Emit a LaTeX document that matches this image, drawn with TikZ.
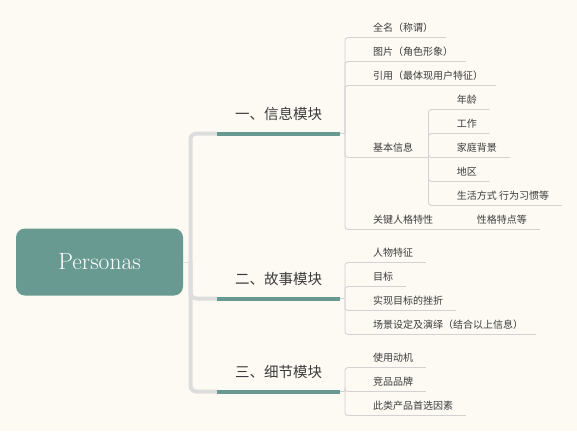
\documentclass[tikz,border=0pt]{standalone}
\usepackage{fontspec}
\newfontfamily\cjk{Noto Sans CJK SC}
\definecolor{paper}{HTML}{FCFAF3}
\definecolor{sage}{HTML}{699A92}
\definecolor{twiggray}{HTML}{D2D2D2}
\definecolor{spinegray}{HTML}{DDDDDD}
\definecolor{ink}{HTML}{3C3C3C}

\begin{document}
\begin{tikzpicture}[x=1pt,y=-1pt]
    % Setup the styles for the map
        \tikzset{root style/.style={fill=sage, rounded corners=9pt,
                                    minimum width=167pt, minimum height=67pt,
                                    text=white, font=\fontsize{23.5}{27}\selectfont},
                 topic style/.style={minimum width=123pt, minimum height=38pt,
                                     inner ysep=0pt, text=ink,
                                     font=\cjk\fontsize{14.5}{16}\selectfont},
                 leaf style/.style={anchor=west, inner xsep=12.5pt, inner ysep=0pt,
                                    minimum height=18.6pt, text=ink,
                                    font=\cjk\fontsize{10}{12}\selectfont},
                 bar/.style={draw=sage, line width=4pt},
                 spine/.style={draw=spinegray, line width=4pt, rounded corners=6pt},
                 twig/.style={draw=twiggray, line width=0.8pt, rounded corners=3pt}}

        % Draw the root and the three modules
        \useasboundingbox[fill=paper] (0,0) rectangle (577,431);
        \node[root style] at (99.5, 262)  (root) {Personas};
        \node[topic style] at (278.5, 114.3) (info)  {一、信息模块};
        \node[topic style] at (278.5, 279.3) (story) {二、故事模块};
        \node[topic style] at (278.5, 372.3) (detail) {三、细节模块};
        \coordinate (hub) at (190.5, 262);

        % Draw the leaves
        \node[leaf style] at (360.5, 28)  (name)   {全名（称谓）};
        \node[leaf style] at (360.5, 52)  (photo)  {图片（角色形象）};
        \node[leaf style] at (360.5, 76)  (quote)  {引用（最体现用户特征）};
        \node[leaf style, inner xsep=15pt] at (358, 148) (basic) {基本信息};
        \node[leaf style] at (360.5, 220) (trait)  {关键人格特性};
        \node[leaf style] at (464.2, 220) (char)   {性格特点等};

        \node[leaf style] at (444.2, 100) (age)    {年龄};
        \node[leaf style] at (444.2, 124) (job)    {工作};
        \node[leaf style] at (444.2, 148) (family) {家庭背景};
        \node[leaf style] at (444.2, 172) (region) {地区};
        \node[leaf style] at (444.2, 196) (life)   {生活方式 行为习惯等};

        \node[leaf style] at (360.5, 253) (persona) {人物特征};
        \node[leaf style] at (360.5, 277) (goal)    {目标};
        \node[leaf style] at (360.5, 301) (setback) {实现目标的挫折};
        \node[leaf style] at (360.5, 325) (scene)   {场景设定及演绎（结合以上信息）};

        \node[leaf style] at (360.5, 358) (motive)  {使用动机};
        \node[leaf style] at (360.5, 382) (rival)   {竞品品牌};
        \node[leaf style] at (360.5, 406) (factor)  {此类产品首选因素};

        % Connect the root with the modules
        \draw[draw=spinegray, line width=0.8pt] (root.east) -- (hub);
        \draw[spine] (hub) |- (info.south west);
        \draw[spine] (hub) |- (story.south west);
        \draw[spine] (hub) |- (detail.south west);
        \draw[bar] (info.south west) -- (info.south east);
        \draw[bar] (story.south west) -- (story.south east);
        \draw[bar] (detail.south west) -- (detail.south east);

        % Connect the modules with the leaves
        \coordinate (t1) at ([xshift=4.7pt]info.south east);
        \coordinate (t2) at ([xshift=4.7pt]story.south east);
        \coordinate (t3) at ([xshift=4.7pt]detail.south east);
        \draw[twig] (info.south east) -- (t1);
        \draw[twig] (story.south east) -- (t2);
        \draw[twig] (detail.south east) -- (t3);
        \foreach \leaf in {name, photo, quote, basic, trait}
            \draw[twig] (t1) |- (\leaf.south east);
        \foreach \leaf in {persona, goal, setback, scene}
            \draw[twig] (t2) |- (\leaf.south east);
        \foreach \leaf in {motive, rival, factor}
            \draw[twig] (t3) |- (\leaf.south east);
        \foreach \leaf in {age, job, family, region, life}
            \draw[twig] (basic.south east) |- (\leaf.south east);
        \draw[twig] (trait.south east) -- (char.south east);
\end{tikzpicture}
\end{document}
